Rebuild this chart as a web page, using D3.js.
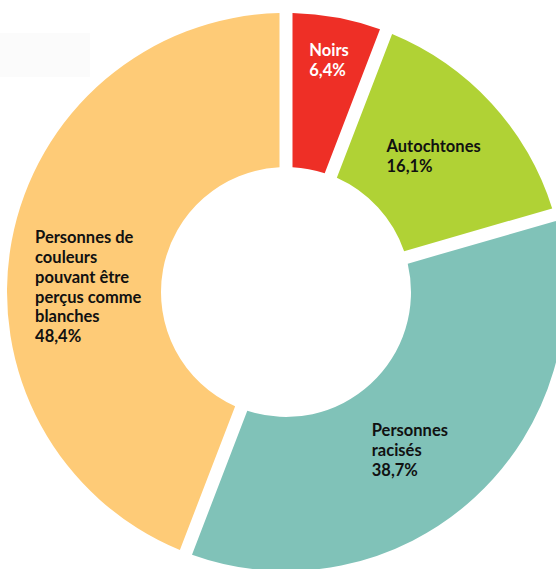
<!DOCTYPE html>
<html>
<head>
<meta charset="utf-8">
<script src="https://cdn.jsdelivr.net/npm/d3@7"></script>
<style>
  html, body { margin: 0; padding: 0; background: #ffffff; }
  svg { display: block; }
</style>
</head>
<body>
<svg id="chart" width="556" height="569"></svg>
<script>
// Données du graphique
var categories = ["Noirs", "Autochtones", "Personnes racisés", "Personnes de couleurs pouvant être perçus comme blanches"];
var values = [6.4, 16.1, 38.7, 48.4];
var valueLabels = ["6,4%", "16,1%", "38,7%", "48,4%"];
var labelLines = [
    ["Noirs"],
    ["Autochtones"],
    ["Personnes", "racisés"],
    ["Personnes de", "couleurs", "pouvant être", "perçus comme", "blanches"]
];
var colors = ["#ee2f26", "#b0d235", "#80c2b8", "#fecb77"];
var textColors = ["#ffffff", "#111111", "#111111", "#111111"];

// Placement des étiquettes (rayon et petit décalage)
var labelRadius = [236, 201, 201, 199];
var labelNudge = [[0, 0], [0, 0], [-12, 10], [-2, 31]];

var svg = d3.select("#chart"),
    width = +svg.attr("width"),
    height = +svg.attr("height");

var cx = 286, cy = 292;
var outerR = 279, innerR = 125;

// Petit rectangle pâle en haut à gauche
svg.append("rect")
    .attr("x", 0).attr("y", 33)
    .attr("width", 90).attr("height", 44)
    .attr("fill", "#fbfbfb");

var pie = d3.pie().sort(null).value(function(d) { return d; });
var arcs = pie(values);

var arc = d3.arc()
    .innerRadius(innerR)
    .outerRadius(outerR)
    .padAngle(13 / Math.sqrt(innerR * innerR + outerR * outerR));

var g = svg.append("g").attr("transform", "translate(" + cx + "," + cy + ")");

g.selectAll("path")
    .data(arcs)
    .enter().append("path")
    .attr("d", arc)
    .attr("fill", function(d, i) { return colors[i]; });

// Étiquettes
var lineH = 19.8;
arcs.forEach(function(d, i) {
    var mid = (d.startAngle + d.endAngle) / 2;
    var px = Math.sin(mid) * labelRadius[i] + labelNudge[i][0];
    var py = -Math.cos(mid) * labelRadius[i] + labelNudge[i][1];
    var lines = labelLines[i].concat([valueLabels[i]]);
    var t = g.append("text")
        .attr("fill", textColors[i])
        .style("font-family", "Lato, 'Noto Sans', sans-serif")
        .style("font-weight", "700")
        .style("font-size", "16.5px");
    lines.forEach(function(s, j) {
        t.append("tspan").attr("x", 0).attr("y", j * lineH).text(s);
    });
    var w = t.node().getBBox().width;
    var blockH = (lines.length - 1) * lineH;
    t.attr("transform", "translate(" + (px - w / 2) + "," + (py - blockH / 2 + 6) + ")");
});
</script>
</body>
</html>
